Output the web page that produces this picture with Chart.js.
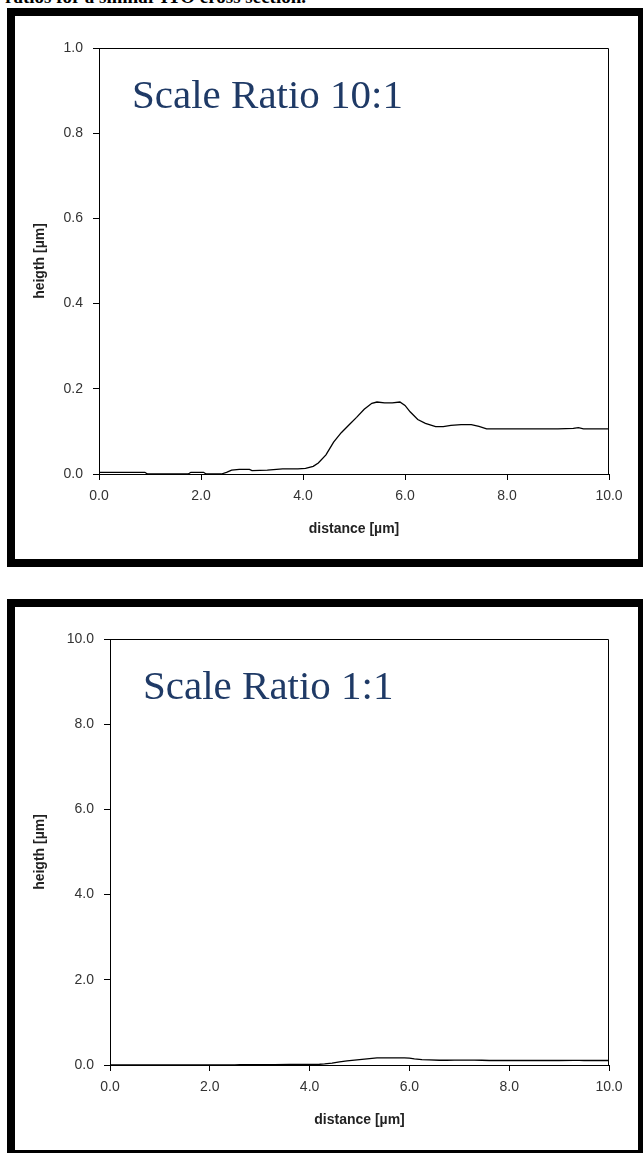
<!DOCTYPE html>
<html>
<head>
<meta charset="utf-8">
<script src="https://cdn.jsdelivr.net/npm/chart.js@4.4.1/dist/chart.umd.min.js"></script>
<style>
  body { margin: 0; width: 643px; height: 1153px; overflow: hidden; background: #fff; position: relative; }
  .caption { position: absolute; left: 5px; top: -14px; font: bold 19px "Liberation Serif", "Times New Roman", serif; color: #000; white-space: nowrap; }
  .frame { position: absolute; left: 7px; width: 639px; height: 559px; box-sizing: border-box; border: 8px solid #000; background: #fff; }
  .frame canvas { display: block; }
</style>
</head>
<body>
<div class="caption">ratios for a similar ITO cross section.</div>
<div class="frame" style="top: 8px;"><canvas id="chart-top" width="623" height="543"></canvas></div>
<div class="frame" style="top: 599px;"><canvas id="chart-bottom" width="623" height="543"></canvas></div>

<script>
// Profile
const distance = [0, 0.3, 0.6, 0.9, 0.95, 1.5, 1.75, 1.8, 2.05, 2.1, 2.4, 2.5, 2.6, 2.75, 2.95, 3.0, 3.3, 3.6, 3.9, 4.05, 4.2, 4.3, 4.45, 4.6, 4.75, 4.9, 5.05, 5.2, 5.35, 5.45, 5.6, 5.75, 5.9, 6.0, 6.1, 6.25, 6.4, 6.6, 6.75, 6.9, 7.1, 7.3, 7.45, 7.6, 7.8, 8.2, 8.6, 9.0, 9.3, 9.4, 9.5, 10.0];
const height = [0.004, 0.004, 0.004, 0.004, 0.0, 0.0, 0.0, 0.004, 0.004, 0.0, 0.0, 0.004, 0.009, 0.011, 0.011, 0.008, 0.009, 0.012, 0.012, 0.013, 0.018, 0.026, 0.045, 0.075, 0.097, 0.115, 0.133, 0.152, 0.166, 0.169, 0.167, 0.167, 0.169, 0.161, 0.146, 0.128, 0.119, 0.111, 0.111, 0.114, 0.116, 0.116, 0.112, 0.106, 0.106, 0.106, 0.106, 0.106, 0.107, 0.109, 0.106, 0.106];

const xTicks = [0, 2, 4, 6, 8, 10];
const yTicksTop = [0, 0.2, 0.4, 0.6, 0.8, 1.0];
const yTicksBottom = [0, 2, 4, 6, 8, 10];

const points = distance.map((d, i) => ({ x: d, y: height[i] }));

// Box round the plot area and the "Scale Ratio" note
const frameBox = {
    id: 'frameBox',
    afterDraw(chart, args, opts) {
        const a = chart.chartArea;
        const ctx = chart.ctx;
        ctx.save();
        ctx.strokeStyle = '#000';
        ctx.lineWidth = 1;
        ctx.beginPath();
        ctx.moveTo(a.left, a.top + 0.5);
        ctx.lineTo(a.right - 0.5, a.top + 0.5);
        ctx.lineTo(a.right - 0.5, a.bottom);
        ctx.stroke();
        ctx.fillStyle = '#1F3A66';
        ctx.font = '41px "Liberation Serif", "Times New Roman", serif';
        ctx.textBaseline = 'alphabetic';
        ctx.fillText(opts.note, a.left + 33, a.top + 60);
        ctx.restore();
    }
};

function makeChart(id, yMax, yStep, yTicks, yWidth, note) {
    const ctx = document.getElementById(id).getContext('2d');
    return new Chart(ctx, {
        type: 'line',
        data: {
            datasets: [{
                data: points,
                borderColor: '#000',
                borderWidth: 1.3,
                pointRadius: 0,
                tension: 0,
                fill: false
            }]
        },
        options: {
            responsive: false,
            animation: false,
            layout: { padding: { left: 0, right: 29, top: 32, bottom: 0 } },
            plugins: {
                legend: { display: false },
                tooltip: { enabled: false },
                frameBox: { note: note }
            },
            scales: {
                x: {
                    type: 'linear',
                    min: 0,
                    max: 10,
                    afterBuildTicks: s => { s.ticks = xTicks.map(v => ({ value: v })); },
                    afterFit: s => { s.height = 85; },
                    grid: { display: true, drawOnChartArea: false, drawTicks: true, tickLength: 6, color: '#000' },
                    border: { display: true, color: '#000', width: 1 },
                    ticks: {
                        padding: 8,
                        color: '#333',
                        font: { family: 'Liberation Sans, Arial, sans-serif', size: 14 },
                        maxRotation: 0,
                        callback: v => v.toFixed(1)
                    },
                    title: {
                        display: true,
                        text: 'distance [µm]',
                        color: '#222',
                        font: { family: 'Liberation Sans, Arial, sans-serif', size: 14, weight: 'bold' },
                        padding: { top: 0, bottom: 21 }
                    }
                },
                y: {
                    type: 'linear',
                    min: 0,
                    max: yMax,
                    afterBuildTicks: s => { s.ticks = yTicks.map(v => ({ value: v })); },
                    afterFit: s => { s.width = yWidth; },
                    grid: { display: true, drawOnChartArea: false, drawTicks: true, tickLength: 6, color: '#000' },
                    border: { display: true, color: '#000', width: 1 },
                    ticks: {
                        padding: 10,
                        color: '#333',
                        font: { family: 'Liberation Sans, Arial, sans-serif', size: 14 },
                        callback: v => v.toFixed(1)
                    },
                    title: {
                        display: true,
                        text: 'heigth [µm]',
                        color: '#222',
                        font: { family: 'Liberation Sans, Arial, sans-serif', size: 14, weight: 'bold' },
                        padding: { top: 17, bottom: 0 }
                    }
                }
            }
        },
        plugins: [frameBox]
    });
}

makeChart('chart-top', 1, 0.2, yTicksTop, 84, 'Scale Ratio 10:1');
makeChart('chart-bottom', 10, 2, yTicksBottom, 95, 'Scale Ratio 1:1');
</script>
</body>
</html>
